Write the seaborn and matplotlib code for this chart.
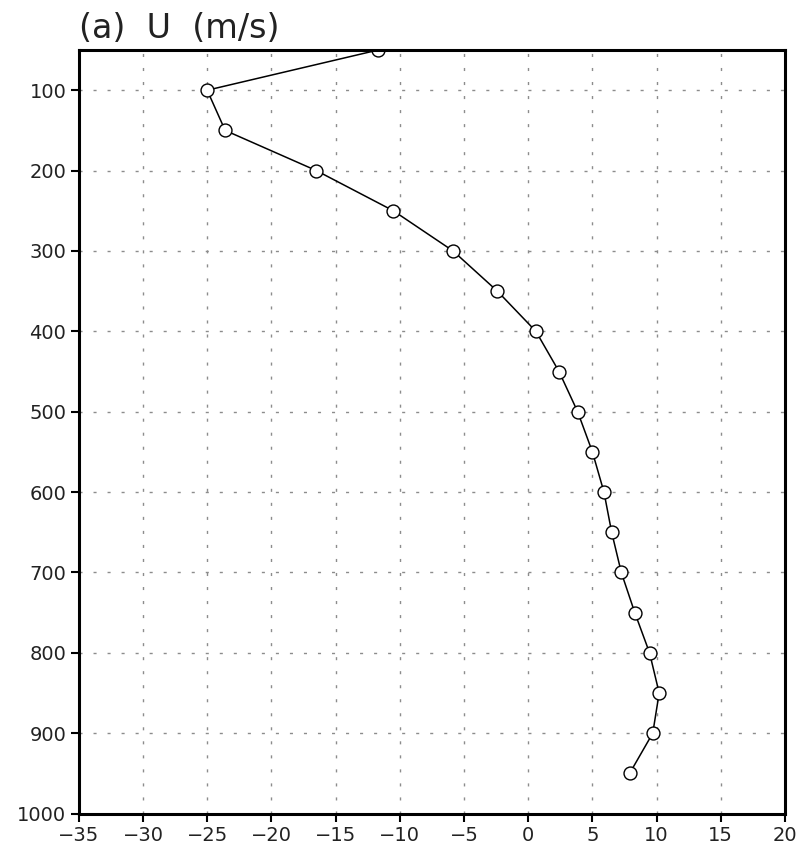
import matplotlib
matplotlib.use("Agg")
import matplotlib.pyplot as plt
import seaborn as sns
import pandas as pd

# Data
pressure = [50, 100, 150, 200, 250, 300, 350, 400, 450, 500, 550, 600,
            650, 700, 750, 800, 850, 900, 950]
u_wind = [-11.7, -25.0, -23.6, -16.5, -10.5, -5.85, -2.4, 0.6, 2.4, 3.85,
          5.0, 5.9, 6.5, 7.25, 8.3, 9.45, 10.2, 9.7, 7.9]
x_ticks = [-35, -30, -25, -20, -15, -10, -5, 0, 5, 10, 15, 20]
y_ticks = [100, 200, 300, 400, 500, 600, 700, 800, 900, 1000]
title = "(a)  U  (m/s)"

df = pd.DataFrame({"U": u_wind, "p": pressure})

sns.set_theme(style="white")
plt.rcParams['font.family'] = ['DejaVu Sans']

fig = plt.figure(figsize=(8.03, 8.51), dpi=100)
ax = fig.add_axes([0.0981, 0.044, 0.8795, 0.8972])

sns.lineplot(data=df, x="U", y="p", sort=False, ax=ax, color="black",
             linewidth=1.1, marker="o", markersize=9.3,
             markerfacecolor="white", markeredgecolor="black",
             markeredgewidth=1.0, zorder=3)
for ln in ax.lines:
    ln.set_clip_on(True)
    ln.set_clip_path(ax.patch)

ax.set_xlim(-35, 20)
ax.set_ylim(1000, 50)
ax.set_xticks(x_ticks)
ax.set_yticks(y_ticks)
ax.set_xticklabels([str(t).replace("-", "\u2212") for t in x_ticks])
ax.set_yticklabels([str(t) for t in y_ticks])
ax.set_xlabel("")
ax.set_ylabel("")

ax.grid(True, color="#8c8c8c", linestyle=(0, (2.2, 7.9)), linewidth=1.0)
for s in ax.spines.values():
    s.set_visible(True)
    s.set_color("black")
    s.set_linewidth(2.2)
    s.set_zorder(4)

ax.tick_params(axis="both", which="both", direction="out", length=6,
               width=1.5, color="black", labelsize=14, labelcolor="#222222",
               bottom=True, left=True, pad=3)

fig.text(0.098, 0.966, title, fontsize=24, color="#222222",
         ha="left", va="center")

fig.savefig("out.png", dpi=100)
